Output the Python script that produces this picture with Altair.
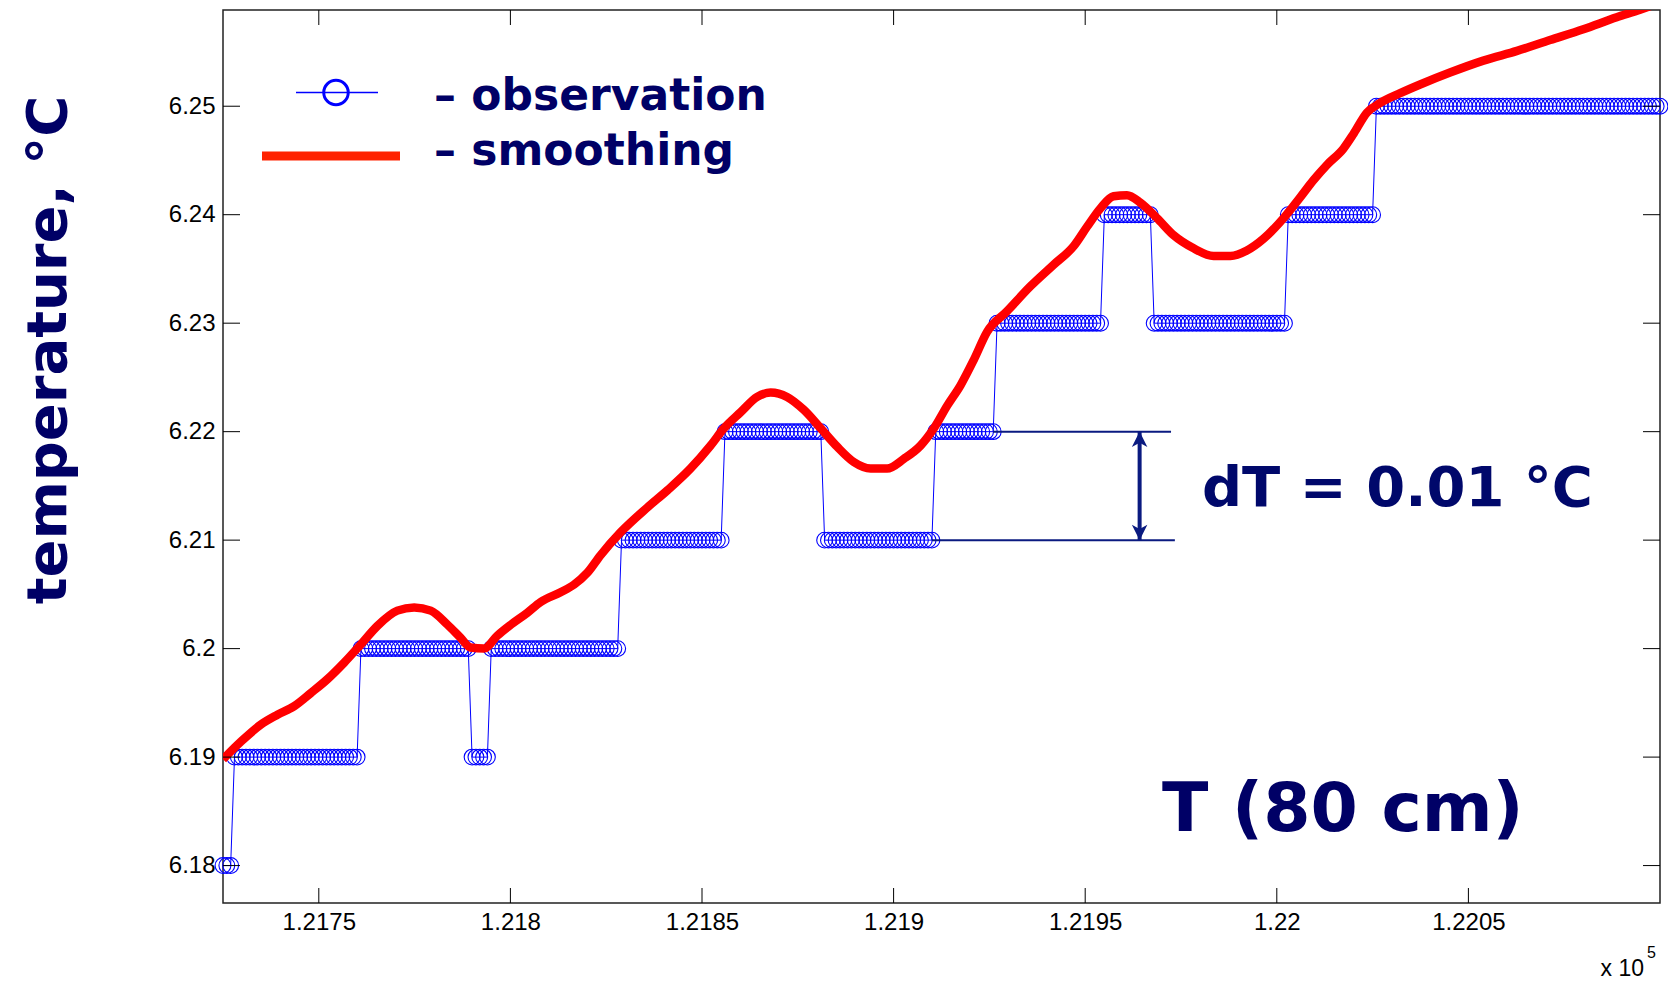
import altair as alt
import pandas as pd

# ---------------- data ----------------
# observation: quantised steps (run-length: first x, last x, level)
seg_start = [121725, 121728, 121761, 121790, 121795, 121829, 121856, 121882,
             121911, 121927, 121955, 121968, 122003, 122026]
seg_end = [121727, 121760, 121789, 121794, 121828, 121855, 121881, 121910,
           121926, 121954, 121967, 122002, 122025, 122100]
seg_temp = [6.18, 6.19, 6.20, 6.19, 6.20, 6.21, 6.22, 6.21,
            6.22, 6.23, 6.24, 6.23, 6.24, 6.25]

# smoothing curve
smooth_x = [121725.0, 121729.6, 121734.9, 121739.2, 121743.6, 121747.9, 121752.3,
            121756.6, 121761.0, 121765.3, 121770.5, 121774.9, 121779.2, 121783.6,
            121787.0, 121789.6, 121793.1, 121796.6, 121800.1, 121804.4, 121807.9,
            121813.1, 121816.6, 121820.1, 121823.5, 121828.7, 121835.7, 121841.0,
            121847.0, 121852.2, 121855.7, 121860.1, 121864.4, 121867.9, 121872.2,
            121876.6, 121881.0, 121885.3, 121889.6, 121894.0, 121898.3, 121902.7,
            121907.0, 121910.5, 121914.0, 121917.5, 121920.9, 121924.4, 121929.6,
            121935.7, 121941.8, 121947.0, 121950.5, 121954.0, 121957.4, 121960.9,
            121964.4, 121968.7, 121973.1, 121978.3, 121983.5, 121987.9, 121992.2,
            121996.6, 122001.8, 122006.1, 122009.6, 122013.1, 122017.4, 122020.1,
            122023.5, 122027.0, 122032.2, 122037.4, 122045.2, 122053.9, 122062.7,
            122071.3, 122080.0, 122088.7, 122094.8, 122098.0]
smooth_t = [6.1898, 6.1914, 6.1930, 6.1939, 6.1947, 6.1959, 6.1972,
            6.1987, 6.2004, 6.2021, 6.2035, 6.2038, 6.2035, 6.2022,
            6.2010, 6.2001, 6.2000, 6.2012, 6.2022, 6.2033, 6.2043,
            6.2052, 6.2059, 6.2070, 6.2086, 6.2107, 6.2130, 6.2146,
            6.2166, 6.2187, 6.2203, 6.2218, 6.2232, 6.2236, 6.2232,
            6.2220, 6.2203, 6.2186, 6.2172, 6.2166, 6.2166, 6.2175,
            6.2187, 6.2203, 6.2224, 6.2243, 6.2266, 6.2292, 6.2311,
            6.2334, 6.2354, 6.2371, 6.2389, 6.2406, 6.2417, 6.2418,
            6.2411, 6.2397, 6.2381, 6.2369, 6.2362, 6.2362, 6.2367,
            6.2378, 6.2397, 6.2416, 6.2432, 6.2446, 6.2461, 6.2475,
            6.2494, 6.2503, 6.2512, 6.2520, 6.2531, 6.2542, 6.2551,
            6.2561, 6.2571, 6.2582, 6.2589, 6.2593]

x_ticks = [121750, 121800, 121850, 121900, 121950, 122000, 122050]
y_ticks = [6.18, 6.19, 6.20, 6.21, 6.22, 6.23, 6.24, 6.25]

dT_levels = [6.22, 6.21]
dT_line_start = [121926, 121910]
dT_line_end = [121972.4, 121973.4]
arrow_x = 121964.2

# ---------------- tables ----------------
obs_x, obs_t = [], []
for s, e, v in zip(seg_start, seg_end, seg_temp):
    for xv in range(s, e + 1):
        obs_x.append(xv)
        obs_t.append(v)
obs = pd.DataFrame({"x": obs_x, "t": obs_t})
smooth = pd.DataFrame({"x": smooth_x, "t": smooth_t})
xt = pd.DataFrame({"x": x_ticks})
yt = pd.DataFrame({"t": y_ticks})
dt_lines = pd.DataFrame({"x": dT_line_start, "x2": dT_line_end, "t": dT_levels})
arrow = pd.DataFrame({"x": [arrow_x], "t": [dT_levels[0]], "t2": [dT_levels[1]]})

W, H = 1437, 893
xs = alt.Scale(domain=[121725, 122100], nice=False, zero=False)
ys = alt.Scale(domain=[6.17655, 6.25887], nice=False, zero=False)

NAVY = "#000066"
ANN = "#0A1A80"

xaxis = alt.Axis(values=x_ticks, labelExpr="format(datum.value/100000, '.5~f')",
                 ticks=False, domain=False, grid=False, labelFont="Liberation Sans",
                 labelFontSize=24, labelColor="black", labelPadding=7,
                 labelOverlap=False, labelFlush=False, title=None)
yaxis = alt.Axis(values=y_ticks, labelExpr="format(datum.value, '.2~f')",
                 ticks=False, domain=False, grid=False, labelFont="Liberation Sans",
                 labelFontSize=24, labelColor="black", labelPadding=8,
                 labelOverlap=False, labelFlush=False, title=None)


def X(f="x"):
    return alt.X(f"{f}:Q", scale=xs, axis=xaxis, title=None)


def Y(f="t"):
    return alt.Y(f"{f}:Q", scale=ys, axis=yaxis, title=None)


obs_line = alt.Chart(obs).mark_line(color="#0000FF", strokeWidth=1).encode(x=X(), y=Y())
obs_pts = alt.Chart(obs).mark_point(shape="circle", filled=False, color="#0000FF",
                                    size=250, strokeWidth=1.1, opacity=1).encode(x=X(), y=Y())
smooth_line = alt.Chart(smooth).mark_line(color="#FF0000", strokeWidth=8.5,
                                          interpolate="monotone",
                                          strokeJoin="round", clip=True).encode(x=X(), y=Y())

# inward ticks (MATLAB box style)
tick_b = alt.Chart(xt).mark_rule(color="black", strokeWidth=1).encode(
    x=X(), y=alt.value(H), y2=alt.value(H - 15))
tick_t = alt.Chart(xt).mark_rule(color="black", strokeWidth=1).encode(
    x=X(), y=alt.value(0), y2=alt.value(15))
tick_l = alt.Chart(yt).mark_rule(color="black", strokeWidth=1).encode(
    y=Y(), x=alt.value(0), x2=alt.value(17))
tick_r = alt.Chart(yt).mark_rule(color="black", strokeWidth=1).encode(
    y=Y(), x=alt.value(W), x2=alt.value(W - 17))

# dT annotation
dt_rule = alt.Chart(dt_lines).mark_rule(color=ANN, strokeWidth=2).encode(
    x=X(), x2="x2:Q", y=Y())
arrow_shaft = alt.Chart(arrow).mark_rule(color=ANN, strokeWidth=4).encode(
    x=X(), y=alt.Y("t:Q", scale=ys, axis=yaxis, title=None), y2="t2:Q")
head_up = alt.Chart(arrow).mark_point(
    shape="M0,-1L1,1L0,0.45L-1,1Z", filled=True, color=ANN, size=240, opacity=1,
    yOffset=7.7).encode(x=X(), y=Y("t"))
head_dn = alt.Chart(arrow).mark_point(
    shape="M0,1L1,-1L0,-0.45L-1,-1Z", filled=True, color=ANN, size=240, opacity=1,
    yOffset=-7.7).encode(x=X(), y=Y("t2"))

# legend (drawn by hand, MATLAB-style)
one = pd.DataFrame({"k": [0]})
leg_blue = alt.Chart(one).mark_rule(color="#0000FF", strokeWidth=1.5).encode(
    x=alt.value(73), x2=alt.value(155), y=alt.value(82.5))
leg_circle = alt.Chart(one).mark_point(shape="circle", filled=False, color="#0000FF",
                                       size=600, strokeWidth=3, opacity=1).encode(
    x=alt.value(113), y=alt.value(82.5))
leg_red = alt.Chart(one).mark_rule(color="#FF2200", strokeWidth=9).encode(
    x=alt.value(39), x2=alt.value(177), y=alt.value(146))


def label(text, x, y, size, color=NAVY, align="left", angle=0, font="DejaVu Sans",
          weight="bold", baseline="alphabetic"):
    return alt.Chart(one).mark_text(text=text, font=font, fontWeight=weight,
                                    fontSize=size, color=color, align=align,
                                    baseline=baseline, angle=angle).encode(
        x=alt.value(x), y=alt.value(y))


txt_obs = label("– observation", 211, 100, 44)
txt_smo = label("– smoothing", 211, 155, 44)
txt_dt = label("dT = 0.01 °C", 979, 496, 56, color="#00086B")
txt_T = label("T (80 cm)", 939, 821, 68)
txt_ylab = label("temperature, °C", -157, 340, 56, align="center", angle=270)
txt_x10 = label("x 10", 1421, 966, 23, color="black", align="right",
                font="Liberation Sans", weight="normal")
txt_x5 = label("5", 1424, 948, 16, color="black", font="Liberation Sans", weight="normal")

chart = alt.layer(
    obs_line, obs_pts, smooth_line,
    tick_b, tick_t, tick_l, tick_r,
    dt_rule, arrow_shaft, head_up, head_dn,
    leg_blue, leg_circle, leg_red,
    txt_obs, txt_smo, txt_dt, txt_T, txt_ylab, txt_x10, txt_x5,
).properties(
    width=W, height=H,
    padding={"left": 223, "top": 10, "right": 8, "bottom": 78},
    autosize=alt.AutoSizeParams(type="none"),
    background="white",
).configure_view(stroke="#222222", strokeWidth=1.5)

chart.save("out.html", embed_options={"renderer": "svg", "actions": False})
